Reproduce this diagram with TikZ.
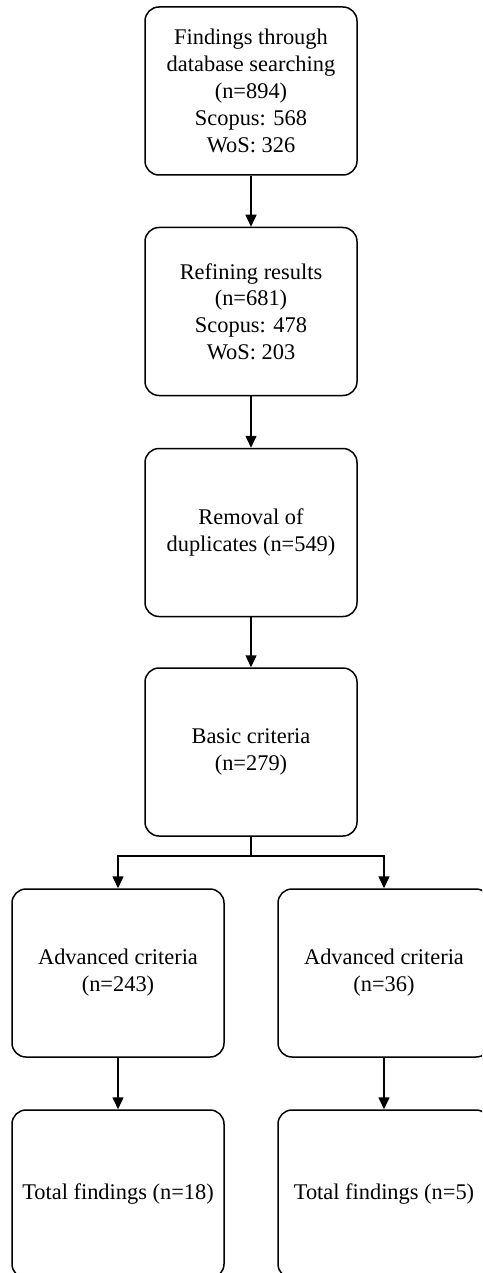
\documentclass[tikz,border=0pt]{standalone}
\usepackage{fontspec}
\setmainfont{Liberation Serif}
\usetikzlibrary{arrows.meta}
\begin{document}
\begin{tikzpicture}[x=1pt,y=-1pt,
  flowbox/.style={draw, line width=1.5pt, rounded corners=14pt,
    minimum width=212pt, minimum height=168pt, inner sep=0pt,
    align=center, font=\fontsize{22.4}{26.8}\selectfont},
  arr/.style={line width=1.5pt, -{Triangle[width=11pt,length=12pt]}},
  seg/.style={line width=1.5pt}]
\clip (0,0) rectangle (482,1273);
\useasboundingbox (0,0) rectangle (482,1273);
\fill[white] (0,0) rectangle (482,1273);

\node[flowbox] (find) at (251,91) {Findings through\\database searching\\(n=894)\\Scopus: 568\\WoS: 326};
\node[flowbox] (refine) at (251,311.5) {Refining results\\(n=681)\\Scopus: 478\\WoS: 203};
\node[flowbox] (dup) at (251,532.5) {Removal of\\duplicates (n=549)};
\node[flowbox] (basic) at (251,752) {Basic criteria\\(n=279)};
\node[flowbox] (advl) at (118,973) {Advanced criteria\\(n=243)};
\node[flowbox] (advr) at (384,973) {Advanced criteria\\(n=36)};
\node[flowbox] (totl) at (118,1194) {Total findings (n=18)};
\node[flowbox] (totr) at (384,1194) {Total findings (n=5)};

\coordinate (split) at (251,856);

\draw[arr] (find) -- (refine);
\draw[arr] (refine) -- (dup);
\draw[arr] (dup) -- (basic);
\draw[seg] (basic) -- (split);
\draw[arr] (split) -| (advl.north);
\draw[arr] (split) -| (advr.north);
\draw[arr] (advl) -- (totl);
\draw[arr] (advr) -- (totr);
\end{tikzpicture}
\end{document}
